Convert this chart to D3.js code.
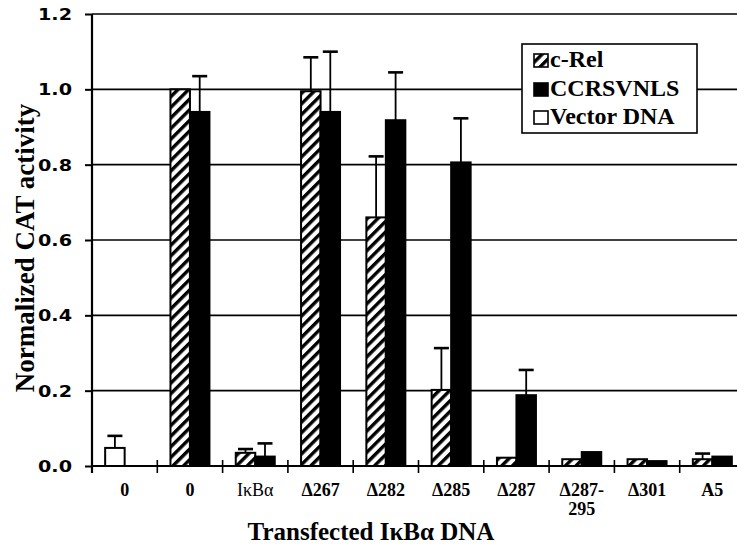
<!DOCTYPE html>
<html>
<head>
<meta charset="utf-8">
<script src="https://cdn.jsdelivr.net/npm/d3@7"></script>
<style>
  html, body { margin: 0; padding: 0; background: #fff; }
  svg { display: block; }
</style>
</head>
<body>
<svg id="chart" width="737" height="550"></svg>
<script>
// ---- data ----
const categories = ["0a", "0b", "IkBa", "D267", "D282", "D285", "D287", "D287-295", "D301", "A5"];
const categoryLabels = [["0"], ["0"], ["IκBα"], ["Δ267"], ["Δ282"], ["Δ285"], ["Δ287"], ["Δ287-", "295"], ["Δ301"], ["A5"]];
const series = ["c-Rel", "CCRSVNLS", "Vector DNA"];
// null = no bar
const cRel      = [null, 1.00, 0.035, 0.995, 0.660, 0.202, 0.022, 0.018, 0.018, 0.018];
const cRelErr   = [null, null, 0.045, 1.085, 0.822, 0.313, null,  null,  null,  0.033];
const ccrs      = [null, 0.940, 0.025, 0.940, 0.918, 0.806, 0.188, 0.037, 0.013, 0.025];
const ccrsErr   = [null, 1.035, 0.060, 1.100, 1.045, 0.923, 0.255, null,  null,  null];
const vector    = [0.048, null, null, null, null, null, null, null, null, null];
const vectorErr = [0.080, null, null, null, null, null, null, null, null, null];
const yTicks = [0.0, 0.2, 0.4, 0.6, 0.8, 1.0, 1.2];

// ---- layout ----
const svg = d3.select("#chart");
const x0 = 92, x1end = 745, yTop = 14, yBot = 466;
const serif = "'Liberation Serif', 'Times New Roman', Times, serif";

const x = d3.scaleBand().domain(categories).range([x0, x1end]).paddingInner(0).paddingOuter(0);
const xs = d3.scaleBand().domain(["c-Rel", "CCRSVNLS"]).range([0, x.bandwidth()]).paddingInner(0).paddingOuter(0.675);
const y = d3.scaleLinear().domain([0, 1.2]).range([yBot, yTop]);

// hatch pattern
const defs = svg.append("defs");
const pat = defs.append("pattern").attr("id", "hatch")
  .attr("patternUnits", "userSpaceOnUse").attr("width", 7.5).attr("height", 7.5)
  .attr("patternTransform", "rotate(45)");
pat.append("rect").attr("width", 7.5).attr("height", 7.5).attr("fill", "#fff");
pat.append("rect").attr("x", 0).attr("y", 0).attr("width", 3.4).attr("height", 7.5).attr("fill", "#000");

// gridlines
svg.append("g").selectAll("line").data(yTicks.filter(d => d > 0)).join("line")
  .attr("x1", x0).attr("x2", 737).attr("y1", d => y(d)).attr("y2", d => y(d))
  .attr("stroke", "#000").attr("stroke-width", 1.6);

// y axis
const yAxis = d3.axisLeft(y).tickValues(yTicks).tickFormat(d3.format(".1f")).tickSize(7).tickSizeOuter(0);
const gy = svg.append("g").attr("transform", `translate(${x0},0)`).call(yAxis);
gy.select(".domain").remove();
gy.selectAll(".tick line").attr("stroke", "#000").attr("stroke-width", 2);
gy.selectAll(".tick text")
  .attr("x", -20).attr("dy", "0.36em")
  .attr("font-family", "'DejaVu Sans', Arial, sans-serif").attr("font-weight", "bold")
  .attr("font-size", 15).attr("fill", "#000")
  .attr("textLength", 34).attr("lengthAdjust", "spacingAndGlyphs");
svg.append("line").attr("x1", x0).attr("x2", x0).attr("y1", yTop).attr("y2", yBot + 7)
  .attr("stroke", "#000").attr("stroke-width", 2.2);

// bars
function drawSeries(vals, errs, slot, fill) {
  const g = svg.append("g");
  const data = categories.map((c, i) => ({c, v: vals[i], e: errs[i]})).filter(d => d.v !== null);
  g.selectAll("rect").data(data).join("rect")
    .attr("x", d => x(d.c) + xs(slot))
    .attr("y", d => y(d.v))
    .attr("width", xs.bandwidth())
    .attr("height", d => y(0) - y(d.v))
    .attr("fill", fill).attr("stroke", "#000").attr("stroke-width", 2);
  const ed = data.filter(d => d.e !== null);
  g.selectAll("line.v").data(ed).join("line").attr("class", "v")
    .attr("x1", d => x(d.c) + xs(slot) + xs.bandwidth() / 2)
    .attr("x2", d => x(d.c) + xs(slot) + xs.bandwidth() / 2)
    .attr("y1", d => y(d.v)).attr("y2", d => y(d.e))
    .attr("stroke", "#000").attr("stroke-width", 1.8);
  g.selectAll("line.c").data(ed).join("line").attr("class", "c")
    .attr("x1", d => x(d.c) + xs(slot) + xs.bandwidth() / 2 - 7.5)
    .attr("x2", d => x(d.c) + xs(slot) + xs.bandwidth() / 2 + 7.5)
    .attr("y1", d => y(d.e)).attr("y2", d => y(d.e))
    .attr("stroke", "#000").attr("stroke-width", 2.6);
}
drawSeries(cRel, cRelErr, "c-Rel", "url(#hatch)");
drawSeries(ccrs, ccrsErr, "CCRSVNLS", "#000");
drawSeries(vector, vectorErr, "c-Rel", "#fff");

// x axis
svg.append("line").attr("x1", x0).attr("x2", 737).attr("y1", yBot).attr("y2", yBot)
  .attr("stroke", "#000").attr("stroke-width", 2.2);
svg.append("g").selectAll("line").data(categories.slice(1)).join("line")
  .attr("x1", d => x(d)).attr("x2", d => x(d)).attr("y1", yBot - 6).attr("y2", yBot + 7)
  .attr("stroke", "#000").attr("stroke-width", 1.6);

const xl = svg.append("g").selectAll("text").data(categories).join("text")
  .attr("x", d => x(d) + x.bandwidth() / 2)
  .attr("y", 496)
  .attr("text-anchor", "middle")
  .attr("font-family", serif)
  .attr("font-size", 18)
  .attr("font-weight", (d, i) => i === 2 ? "normal" : "bold")
  .attr("fill", "#000");
xl.each(function(d, i) {
  const t = d3.select(this);
  categoryLabels[i].forEach((line, k) => {
    t.append("tspan").attr("x", x(d) + x.bandwidth() / 2).attr("dy", k === 0 ? 0 : 19).text(line);
  });
});

// axis titles
svg.append("text").attr("x", 371).attr("y", 540).attr("text-anchor", "middle")
  .attr("font-family", serif)
  .attr("font-size", 25).attr("font-weight", "bold").attr("fill", "#000")
  .text("Transfected IκBα DNA");
svg.append("text").attr("transform", "translate(34,248) rotate(-90)").attr("text-anchor", "middle")
  .attr("font-family", serif)
  .attr("font-size", 27).attr("font-weight", "bold").attr("fill", "#000")
  .text("Normalized CAT activity");

// legend
const lg = svg.append("g");
lg.append("rect").attr("x", 522).attr("y", 44).attr("width", 175).attr("height", 89)
  .attr("fill", "#fff").attr("stroke", "#000").attr("stroke-width", 1.6);
const legendFills = ["url(#hatch)", "#000", "#fff"];
const legendY = [67, 96, 124];
series.forEach((s, i) => {
  lg.append("rect").attr("x", 534).attr("y", legendY[i] - 13).attr("width", 14).attr("height", 13)
    .attr("fill", legendFills[i]).attr("stroke", "#000").attr("stroke-width", 1.6);
  lg.append("text").attr("x", 550).attr("y", legendY[i])
    .attr("font-family", serif)
    .attr("font-size", 24).attr("font-weight", "bold").attr("fill", "#000")
    .text(s);
});
</script>
</body>
</html>
